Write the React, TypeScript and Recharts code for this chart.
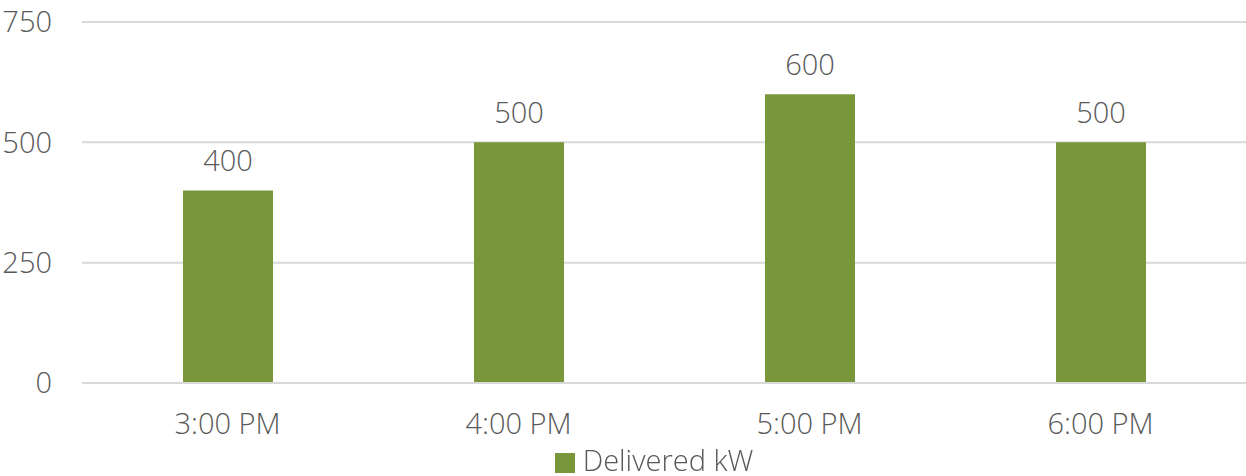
import { BarChart, Bar, XAxis, YAxis, CartesianGrid, Legend, LabelList } from 'recharts';

const hours = ['3:00 PM', '4:00 PM', '5:00 PM', '6:00 PM'];
const deliveredKw = [400, 500, 600, 500];
const yTicks = [0, 250, 500, 750];

const data = hours.map((hour, i) => ({ hour, delivered: deliveredKw[i] }));

const font = "'Open Sans', 'Noto Sans', sans-serif";
const textColor = '#595959';
const fs = 29;

export default function App() {
  return (
    <div style={{ position: 'fixed', top: 0, left: 0, background: '#fff' }}>
      <BarChart
        width={1246}
        height={476}
        data={data}
        margin={{ top: 22, right: 0, left: 0, bottom: 0 }}
        style={{ fontFamily: font }}
      >
        <CartesianGrid vertical={false} stroke="#D9D9D9" strokeWidth={2} />
        <XAxis
          dataKey="hour"
          axisLine={{ stroke: '#D9D9D9', strokeWidth: 2 }}
          tickLine={false}
          tickMargin={24}
          height={63}
          tick={{ fill: textColor, fontSize: fs, fontFamily: font, fontWeight: 300 }}
        />
        <YAxis
          domain={[0, 750]}
          ticks={yTicks}
          width={82}
          axisLine={false}
          tickLine={false}
          tickMargin={24}
          tick={{ fill: textColor, fontSize: fs, fontFamily: font, fontWeight: 300 }}
        />
        <Legend
          iconType="square"
          iconSize={20}
          height={30}
          wrapperStyle={{
            fontSize: fs,
            fontFamily: font,
            fontWeight: 300,
            top: 442,
            left: 36,
            width: 1246,
            lineHeight: '36px',
          }}
          formatter={(v) => (
            <span style={{ color: textColor, marginLeft: 4, display: 'inline-block', lineHeight: '26px' }}>{v}</span>
          )}
        />
        <Bar
          dataKey="delivered"
          name="Delivered kW"
          fill="#7A963A"
          barSize={90}
          isAnimationActive={false}
        >
          <LabelList
            dataKey="delivered"
            position="top"
            offset={19}
            fill={textColor}
            fontSize={fs}
            fontFamily={font}
            fontWeight={300}
          />
        </Bar>
      </BarChart>
    </div>
  );
}
